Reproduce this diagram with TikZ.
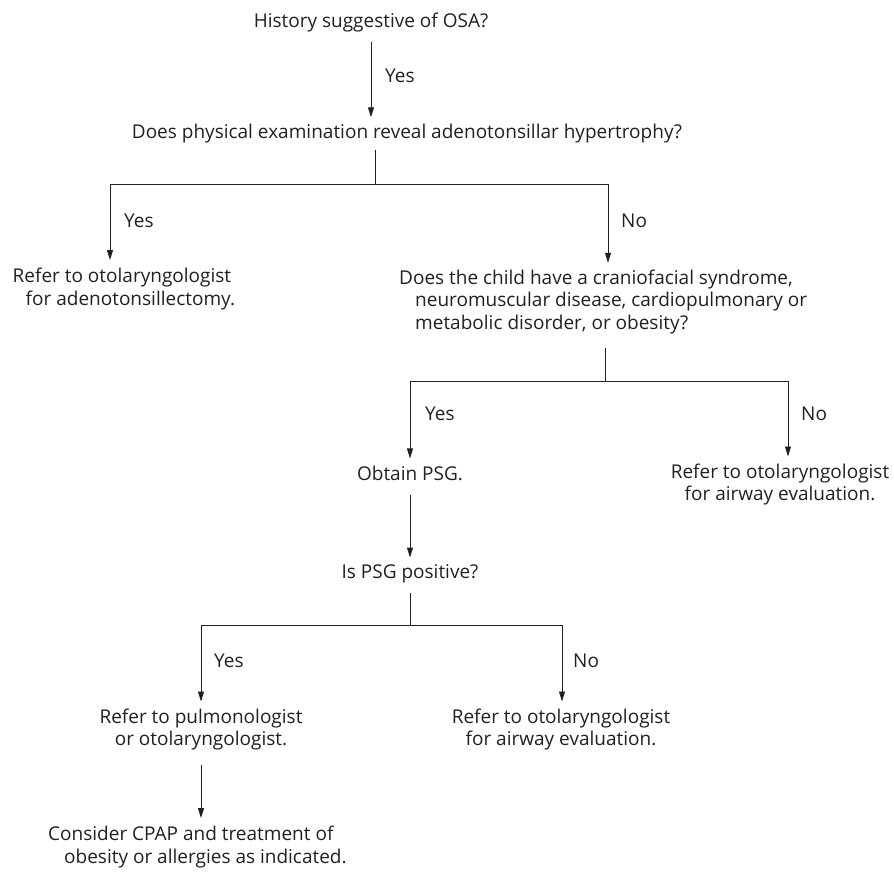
\documentclass[tikz,border=0pt]{standalone}
\usepackage{fontspec}
\setmainfont{Open Sans}
\usetikzlibrary{arrows.meta}
\definecolor{ink}{RGB}{35,31,32}
\begin{document}
\begin{tikzpicture}[x=1pt,y=-1pt,
  txt/.style={inner sep=0pt, font=\fontsize{19}{22.5}\selectfont, text=ink, align=center},
  txtl/.style={txt, align=left, anchor=west},
  lab/.style={inner sep=0pt, font=\fontsize{19}{22.5}\selectfont, text=ink, anchor=west},
  conn/.style={draw=ink, line width=0.9pt},
  arr/.style={conn, -{Triangle[length=10pt,width=6pt]}}
]
\useasboundingbox (0,0) rectangle (894,871);
\node[txt] (hist) at (371,22.5) {History suggestive of OSA?};
\node[txt] (exam) at (407,134) {Does physical examination reveal adenotonsillar hypertrophy?};
\node[txtl] (adeno) at (12.5,289) {Refer to otolaryngologist\\\hspace*{13pt}for adenotonsillectomy.};
\node[txtl] (cranio) at (399,302) {Does the child have a craniofacial syndrome,\\\hspace*{16pt}neuromuscular disease, cardiopulmonary or\\\hspace*{16pt}metabolic disorder, or obesity?};
\node[txt] (psg) at (410,473) {Obtain PSG.};
\node[txt] (airwayA) at (780,484.5) {Refer to otolaryngologist\\for airway evaluation.};
\node[txt] (pos) at (410,574) {Is PSG positive?};
\node[txt] (pulm) at (201,729.5) {Refer to pulmonologist\\or otolaryngologist.};
\node[txt] (airwayB) at (561,729.5) {Refer to otolaryngologist\\for airway evaluation.};
\node[txtl] (cpap) at (48,847) {Consider CPAP and treatment of\\\hspace*{16pt}obesity or allergies as indicated.};

\coordinate (j1) at (375,184);
\coordinate (j1L) at (110,184);
\coordinate (j1R) at (608,184);
\coordinate (j2) at (605,381);
\coordinate (j2L) at (410,381);
\coordinate (j2R) at (788,381);
\coordinate (j3) at (410,625);
\coordinate (j3L) at (201,625);
\coordinate (j3R) at (562,625);

\draw[arr, shorten <=10pt, shorten >=7pt] (hist.south) -- (hist.south |- exam.north);
\node[lab] (y1) at (385,76) {Yes};
\draw[conn, shorten <=6pt] (exam.south -| j1) -- (j1);
\draw[conn] (j1L) -- (j1R);
\draw[arr, shorten >=8pt] (j1L) -- (j1L |- adeno.north);
\draw[arr, shorten >=7pt] (j1R) -- (j1R |- cranio.north);
\node[lab] (y2) at (124,221) {Yes};
\node[lab] (n2) at (621,221) {No};

\draw[conn, shorten <=14pt] (cranio.south -| j2) -- (j2);
\draw[conn] (j2L) -- (j2R);
\draw[arr, shorten >=7pt] (j2L) -- (j2L |- psg.north);
\draw[arr, shorten >=7pt] (j2R) -- (j2R |- airwayA.north);
\node[lab] (y3) at (425,414) {Yes};
\node[lab] (n3) at (801,414) {No};

\draw[arr, shorten <=14pt, shorten >=7pt] (psg.south) -- (psg.south |- pos.north);
\draw[conn, shorten <=10pt] (pos.south) -- (j3);
\draw[conn] (j3L) -- (j3R);
\draw[arr, shorten >=7pt] (j3L) -- (j3L |- pulm.north);
\draw[arr, shorten >=7pt] (j3R) -- (j3R |- airwayB.north);
\node[lab] (y4) at (214,661) {Yes};
\node[lab] (n4) at (573,661) {No};

\draw[arr, shorten <=14pt, shorten >=8pt] (pulm.south) -- (pulm.south |- cpap.north);
\end{tikzpicture}
\end{document}
